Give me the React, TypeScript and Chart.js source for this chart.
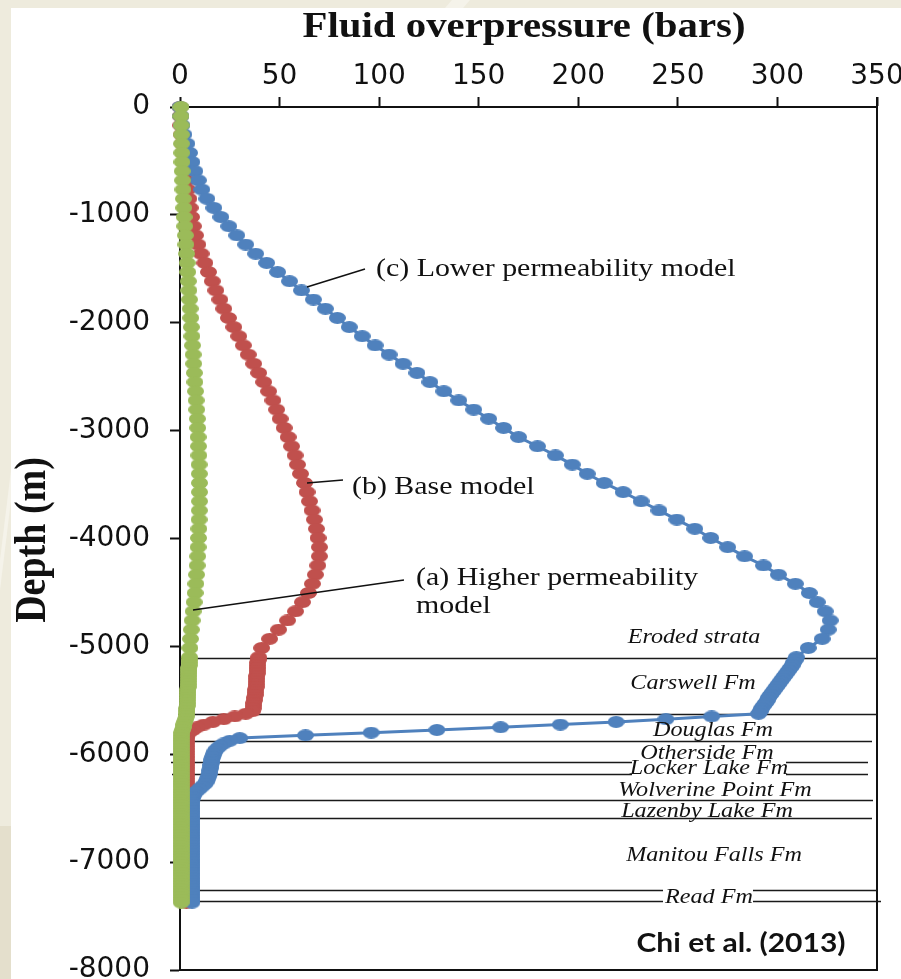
import React, { useEffect, useRef } from 'react';
import { Chart, registerables } from 'chart.js';

Chart.register(...registerables);

// ---------------- DATA ----------------
const depthM = [
  0, -85, -170, -255, -340, -425, -510, -595, -680, -765,
  -850, -935, -1020, -1105, -1190, -1275, -1360, -1445, -1530, -1615,
  -1700, -1785, -1870, -1955, -2040, -2125, -2210, -2295, -2380, -2465,
  -2550, -2635, -2720, -2805, -2890, -2975, -3060, -3145, -3230, -3315,
  -3400, -3485, -3570, -3655, -3740, -3825, -3910, -3995, -4080, -4165,
  -4250, -4335, -4420, -4505, -4590, -4675, -4760, -4845, -4930, -5015,
  -5100,
  -5125, -5150, -5175, -5200, -5225, -5250, -5275, -5300, -5325, -5350,
  -5375, -5400, -5425, -5450, -5475, -5500, -5525, -5550, -5575, -5600,
  -5625, -5650, -5675, -5700, -5725, -5750, -5775, -5800, -5825, -5850,
  -5875, -5900, -5925, -5950, -5975, -6000, -6025, -6050, -6075, -6100,
  -6125, -6150, -6175, -6200, -6225, -6250, -6275, -6300, -6325, -6350,
  -6375, -6400, -6425, -6450, -6475, -6500, -6525, -6550, -6575, -6600,
  -6625, -6650, -6675, -6700, -6725, -6750, -6775, -6800, -6825, -6850,
  -6875, -6900, -6925, -6950, -6975, -7000, -7025, -7050, -7075, -7100,
  -7125, -7150, -7175, -7200, -7225, -7250, -7275, -7300, -7325, -7350,
  -7375,
];

// (a) Higher permeability model (green)
const higherPermBars = [
  0.5, 0.5, 0.6, 0.7, 0.8, 0.9, 1, 1.1, 1.3, 1.5,
  1.7, 1.9, 2.1, 2.4, 2.7, 3, 3.3, 3.6, 3.9, 4.2,
  4.5, 4.8, 5.1, 5.4, 5.7, 6, 6.3, 6.6, 6.9, 7.2,
  7.5, 7.8, 8.1, 8.4, 8.7, 8.9, 9.1, 9.3, 9.5, 9.6,
  9.7, 9.8, 9.8, 9.8, 9.7, 9.6, 9.5, 9.3, 9.1, 8.9,
  8.6, 8.3, 8, 7.6, 7.1, 6.6, 6.1, 5.7, 5.3, 5,
  4.8,
  4.7, 4.6, 4.6, 4.5, 4.5, 4.4, 4.3, 4.3, 4.2, 4.1,
  4.1, 4, 3.9, 3.9, 3.8, 3.7, 3.7, 3.6, 3.5, 3.5,
  3.3, 3.1, 2.8, 2.4, 2, 1.6, 1.2, 0.9, 0.7, 0.6,
  0.6, 0.6, 0.6, 0.6, 0.6, 0.6, 0.6, 0.6, 0.6, 0.6,
  0.6, 0.6, 0.6, 0.6, 0.6, 0.6, 0.6, 0.6, 0.6, 0.6,
  0.6, 0.6, 0.6, 0.6, 0.6, 0.6, 0.6, 0.6, 0.6, 0.6,
  0.6, 0.6, 0.6, 0.6, 0.6, 0.6, 0.6, 0.6, 0.6, 0.6,
  0.6, 0.6, 0.6, 0.6, 0.6, 0.6, 0.6, 0.6, 0.6, 0.6,
  0.6, 0.6, 0.6, 0.6, 0.6, 0.6, 0.6, 0.6, 0.6, 0.6,
  0.6,
];

// (b) Base model (red)
const baseModelBars = [
  0, 0.2, 0.5, 0.8, 1.2, 1.6, 2.1, 2.7, 3.3, 3.9,
  4.5, 5.1, 5.8, 6.7, 7.8, 9, 10.6, 12.5, 14.3, 16.2,
  18, 20, 22, 24.3, 27, 29.5, 31.8, 34.3, 37, 39.5,
  42, 44.5, 46.7, 48.5, 50.3, 52.3, 54.3, 56, 57.8, 59,
  60.5, 62.5, 63.8, 65, 66.3, 67.5, 68.5, 69.3, 70, 70,
  69.2, 68, 66.5, 64.5, 61.5, 58, 54, 49.5, 45, 41,
  39.5,
  39.2, 39, 39, 38.8, 38.8, 38.7, 38.6, 38.5, 38.4, 38.3,
  38.2, 38, 37.9, 37.7, 37.5, 37.3, 37.1, 36.9, 36.7, 36.5,
  33, 27.5, 22, 16.5, 12, 8.5, 6.5, 4.5, 3.5, 3.2,
  3.2, 3.2, 3.2, 3.2, 3.2, 3.2, 3.2, 3.2, 3.2, 3.2,
  3.2, 3.2, 3.2, 3.2, 3.2, 3.2, 3.2, 3.2, 3.2, 3.2,
  3.2, 3.2, 3.2, 3.2, 3.2, 3.2, 3.2, 3.2, 3.2, 3.2,
  3.2, 3.2, 3.2, 3.2, 3.2, 3.2, 3.2, 3.2, 3.2, 3.2,
  3.2, 3.2, 3.2, 3.2, 3.2, 3.2, 3.2, 3.2, 3.2, 3.2,
  3.2, 3.2, 3.2, 3.2, 3.2, 3.2, 3.2, 3.2, 3.2, 3.2,
  3.2,
];

// (c) Lower permeability model (blue)
const lowerPermBars = [
  0, 0.5, 1, 2, 3.5, 4.8, 6, 7.5, 9.2, 11,
  13.5, 17, 20.5, 24.5, 28.5, 33, 38, 43.5, 49, 55,
  61, 67, 73, 79, 85, 91.5, 98, 105, 112, 119,
  125.5, 132.5, 140, 147.5, 155, 162.5, 170, 179.5, 188.5, 197,
  204.5, 213, 222.5, 231.5, 240.5, 249.5, 258.5, 266.5, 275, 283.5,
  293, 300.5, 309, 316, 320, 324, 326.5, 325.5, 322.5, 315.5,
  309.5,
  309, 308, 307.5, 306.5, 305.5, 304.5, 303.5, 302.5, 301.5, 300.5,
  299.5, 298.5, 297.5, 296.5, 295.5, 295, 294, 293, 292, 291.5,
  290.5, 267, 244, 219, 191, 161, 129, 96, 63, 30,
  25, 22, 20, 18.5, 17.5, 17, 16.5, 16, 16, 15.5,
  15.5, 15, 15, 14.5, 14, 13.5, 12.5, 11, 9.5, 8,
  7, 6.5, 6, 6, 6, 6, 6, 6, 6, 6,
  6, 6, 6, 6, 6, 6, 6, 6, 6, 6,
  6, 6, 6, 6, 6, 6, 6, 6, 6, 6,
  6, 6, 6, 6, 6, 6, 6, 6, 6, 6,
  6,
];

const xTickValues = [0, 50, 100, 150, 200, 250, 300, 350];
const yTickValues = [0, -1000, -2000, -3000, -4000, -5000, -6000, -7000, -8000];

const formationTops = [-5105, -5625, -5875, -6070, -6180, -6420, -6595, -7260, -7365];
const formationNames = [
  'Eroded strata', 'Carswell Fm', 'Douglas Fm', 'Otherside Fm', 'Locker Lake Fm',
  'Wolverine Point Fm', 'Lazenby Lake Fm', 'Manitou Falls Fm', 'Read Fm',
];

const xTitle = 'Fluid overpressure (bars)';
const yTitle = 'Depth (m)';
const seriesNames = ['(a) Higher permeability model', '(b) Base model', '(c) Lower permeability model'];
const citation = 'Chi et al. (2013)';

// ---------------- LAYOUT (pixels) ----------------
const boundarySegments: number[][][] = [
  [[180, 877]],
  [[178, 877]],
  [[192, 872]],
  [[171, 632], [786, 868]],
  [[172, 632], [786, 868]],
  [[190, 873]],
  [[190, 872]],
  [[180, 663], [753, 877]],
  [[180, 663], [753, 881]],
];
const formationLabelPos = [
  [694, 637], [693, 683], [713, 730], [707, 753], [709, 768],
  [715, 790], [707, 811], [714, 855], [709, 897],
];

const SX = 1.15;

function ellipseImg(color: string, w = 17, h = 12) {
  const c = document.createElement('canvas');
  c.width = w;
  c.height = h;
  const g = c.getContext('2d')!;
  g.fillStyle = color;
  g.beginPath();
  g.ellipse(w / 2, h / 2, w / 2, h / 2, 0, 0, Math.PI * 2);
  g.fill();
  return c;
}

function txt(ctx: CanvasRenderingContext2D, s: string, x: number, y: number, font: string,
  align: CanvasTextAlign, baseline: CanvasTextBaseline, sx = SX) {
  ctx.save();
  ctx.font = font;
  ctx.textAlign = align;
  ctx.textBaseline = baseline;
  ctx.fillStyle = '#111';
  ctx.translate(x, y);
  ctx.scale(sx, 1);
  ctx.fillText(s, 0, 0);
  ctx.restore();
}

const decorPlugin = {
  id: 'decor',
  beforeDraw(chart: any) {
    const ctx = chart.ctx as CanvasRenderingContext2D;
    ctx.save();
    ctx.fillStyle = '#EEEBDD';
    ctx.fillRect(0, 0, chart.width, chart.height);
    ctx.fillStyle = '#E4DFCC';
    ctx.fillRect(0, 826, 11, chart.height - 826);
    ctx.fillStyle = '#F5F3EA';
    ctx.beginPath();
    ctx.moveTo(0, 560); ctx.lineTo(11, 470); ctx.lineTo(11, 500); ctx.lineTo(0, 590); ctx.closePath();
    ctx.fill();
    ctx.beginPath();
    ctx.moveTo(445, 8); ctx.lineTo(452, 0); ctx.lineTo(470, 0); ctx.lineTo(463, 8); ctx.closePath();
    ctx.fill();
    ctx.fillStyle = '#FFFFFF';
    ctx.fillRect(11, 8, chart.width - 11, chart.height - 8);
    ctx.restore();
  },
  beforeDatasetsDraw(chart: any) {
    const ctx = chart.ctx as CanvasRenderingContext2D;
    const { chartArea, scales } = chart;
    ctx.save();
    ctx.strokeStyle = '#111';
    ctx.lineWidth = 2;
    ctx.beginPath();
    ctx.moveTo(chartArea.right, chartArea.top - 10);
    ctx.lineTo(chartArea.right, chartArea.bottom);
    ctx.lineTo(chartArea.left, chartArea.bottom);
    ctx.stroke();
    ctx.lineWidth = 1.6;
    ctx.strokeStyle = '#1a1a1a';
    formationTops.forEach((d, i) => {
      const y = Math.round(scales.y.getPixelForValue(d)) + 0.5;
      boundarySegments[i].forEach(([a, b]) => {
        ctx.beginPath();
        ctx.moveTo(a, y);
        ctx.lineTo(b, y);
        ctx.stroke();
      });
    });
    ctx.restore();
  },
  afterDatasetsDraw(chart: any) {
    const ctx = chart.ctx as CanvasRenderingContext2D;
    formationNames.forEach((n, i) => {
      const [x, y] = formationLabelPos[i];
      txt(ctx, n, x, y, 'italic 21px "Liberation Serif"', 'center', 'middle');
    });
    ctx.save();
    ctx.strokeStyle = '#111';
    ctx.lineWidth = 1.5;
    const ptr = [[307, 287, 365, 269], [307, 483, 343, 480], [193, 610, 404, 580]];
    ptr.forEach(([a, b, c, d]) => {
      ctx.beginPath(); ctx.moveTo(a, b); ctx.lineTo(c, d); ctx.stroke();
    });
    ctx.restore();
    const af = '26px "Liberation Serif"';
    txt(ctx, seriesNames[2], 376, 269, af, 'left', 'middle');
    txt(ctx, seriesNames[1], 352, 487, af, 'left', 'middle');
    txt(ctx, '(a) Higher permeability', 416, 578, af, 'left', 'middle');
    txt(ctx, 'model', 416, 606, af, 'left', 'middle');
    txt(ctx, xTitle, 524, 37, 'bold 35.5px "Liberation Serif"', 'center', 'alphabetic');
    ctx.save();
    ctx.font = 'bold 38px "Liberation Serif"';
    ctx.textAlign = 'center';
    ctx.textBaseline = 'alphabetic';
    ctx.fillStyle = '#111';
    ctx.translate(45, 540);
    ctx.rotate(-Math.PI / 2);
    ctx.scale(1, SX);
    ctx.fillText(yTitle, 0, 0);
    ctx.restore();
    ctx.save();
    ctx.font = 'bold 26px Lato';
    const w = ctx.measureText(citation).width;
    ctx.restore();
    txt(ctx, citation, 741, 944, 'bold 26px Lato', 'center', 'middle', 209 / w);
  },
};

export default function App() {
  const ref = useRef<HTMLCanvasElement>(null);
  useEffect(() => {
    const canvas = ref.current!;
    const green = ellipseImg('#9BBB59');
    const red = ellipseImg('#C0504D');
    const blue = ellipseImg('#4F81BD');
    const mk = (vals: number[]) => vals.map((v, i) => ({ x: v, y: depthM[i] }));
    const chart = new Chart(canvas, {
      type: 'scatter',
      data: {
        datasets: [
          {
            label: seriesNames[0], data: mk(higherPermBars), showLine: true,
            borderColor: '#9BBB59', borderWidth: 3, pointStyle: green as any, pointRadius: 6,
            clip: false as any, order: 0,
          },
          {
            label: seriesNames[2], data: mk(lowerPermBars), showLine: true,
            borderColor: '#4F81BD', borderWidth: 3, pointStyle: blue as any, pointRadius: 6,
            clip: false as any, order: 1,
          },
          {
            label: seriesNames[1], data: mk(baseModelBars), showLine: true,
            borderColor: '#C0504D', borderWidth: 3, pointStyle: red as any, pointRadius: 6,
            clip: false as any, order: 2,
          },
        ],
      },
      options: {
        responsive: false,
        animation: false,
        events: [],
        layout: { padding: { left: 0, right: 24, top: 0, bottom: 7 } },
        plugins: { legend: { display: false }, tooltip: { enabled: false } },
        scales: {
          x: {
            type: 'linear', position: 'top', min: 0, max: 350,
            afterBuildTicks: (s: any) => { s.ticks = xTickValues.map((v) => ({ value: v })); },
            afterFit: (s: any) => { s.height = 107; s.paddingLeft = 0; s.paddingRight = 0; },
            ticks: {
              callback: (v: any) => String(v), color: '#111', padding: 3,
              font: { family: '"DejaVu Sans"', size: 28 }, maxRotation: 0, autoSkip: false,
            },
            grid: { drawOnChartArea: false, tickLength: 10, tickColor: '#111', tickWidth: 2 },
            border: { color: '#111', width: 2 },
          },
          y: {
            type: 'linear', position: 'left', min: -8000, max: 0,
            afterBuildTicks: (s: any) => { s.ticks = yTickValues.map((v) => ({ value: v })); },
            afterFit: (s: any) => { s.width = 180; s.paddingTop = 0; s.paddingBottom = 0; },
            ticks: {
              callback: (v: any) => String(v), color: '#111', padding: 20,
              font: { family: '"DejaVu Sans"', size: 28 }, autoSkip: false,
            },
            grid: { drawOnChartArea: false, tickLength: 10, tickColor: '#111', tickWidth: 2 },
            border: { color: '#111', width: 2 },
          },
        },
      } as any,
      plugins: [decorPlugin],
    });
    return () => chart.destroy();
  }, []);
  return (
    <div style={{ position: 'fixed', left: 0, top: 0, width: 901, height: 979 }}>
      <canvas ref={ref} width={901} height={979} style={{ display: 'block', width: 901, height: 979 }} />
    </div>
  );
}
